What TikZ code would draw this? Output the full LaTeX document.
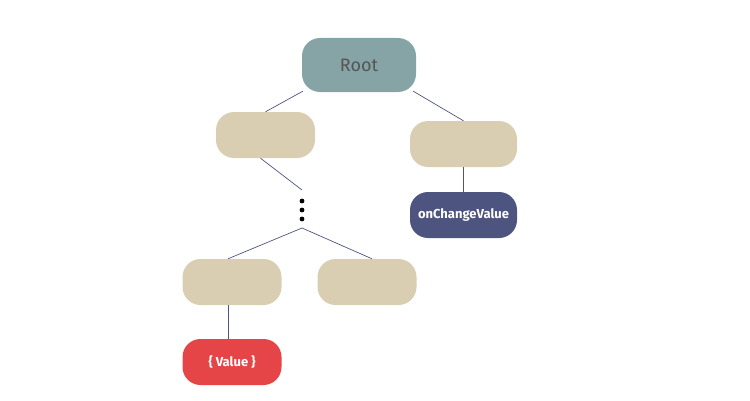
\documentclass[tikz,border=0pt]{standalone}
\usepackage{fontspec}
\setmainfont{Fira Sans}
\usetikzlibrary{calc}
\definecolor{rootc}{HTML}{86A4A6}
\definecolor{beige}{HTML}{D9CEB1}
\definecolor{navy}{HTML}{4D5480}
\definecolor{redc}{HTML}{E64548}
\definecolor{edgec}{HTML}{4D5480}
\definecolor{roottext}{HTML}{555555}
\tikzset{
  box/.style={rectangle, rounded corners=18pt, minimum width=99pt, minimum height=46pt, inner sep=0pt, draw=none},
  conn/.style={draw=edgec, line width=0.7pt},
  dotn/.style={circle, fill=black, inner sep=0pt, minimum size=4.8pt},
}
\begin{document}
\begin{tikzpicture}[x=1pt,y=1pt]
\useasboundingbox (0,0) rectangle (750,400);
\node[box, fill=rootc, minimum width=114pt, minimum height=54pt, text=roottext, font=\fontsize{18}{20}\selectfont] (root) at (359,335) {Root};
\node[box, fill=beige] (la) at (265.5,265) {};
\node[box, fill=beige, minimum width=107pt] (lb) at (463.5,256) {};
\node[box, fill=navy, minimum width=107pt, text=white, font=\fontsize{13}{15}\selectfont\bfseries] (onc) at (463.5,185) {onChangeValue};
\node[dotn] (d1) at (302,199) {};
\node[dotn] (d2) at (302,190) {};
\node[dotn] (d3) at (302,181) {};
\coordinate (dt) at (302,210);
\coordinate (db) at (302,172);
\node[box, fill=beige] (ma) at (232,118) {};
\node[box, fill=beige] (mb) at (367,118) {};
\node[box, fill=redc, text=white, font=\fontsize{13}{15}\selectfont\bfseries] (val) at (232,38) {\{ Value \}};
\draw[conn] ($(root.south west)+(1,1)$) -- (la.north);
\draw[conn] ($(root.south east)+(-3,1)$) -- (lb.north);
\draw[conn] ($(la.south)+(-5,0)$) -- (dt);
\draw[conn] (db) -- ($(ma.north)+(-4,0)$);
\draw[conn] (db) -- ($(mb.north)+(5,0)$);
\draw[conn] (lb) -- (onc);
\draw[conn] ($(ma.south)+(-4,0)$) -- ($(val.north)+(-4,0)$);
\end{tikzpicture}
\end{document}
